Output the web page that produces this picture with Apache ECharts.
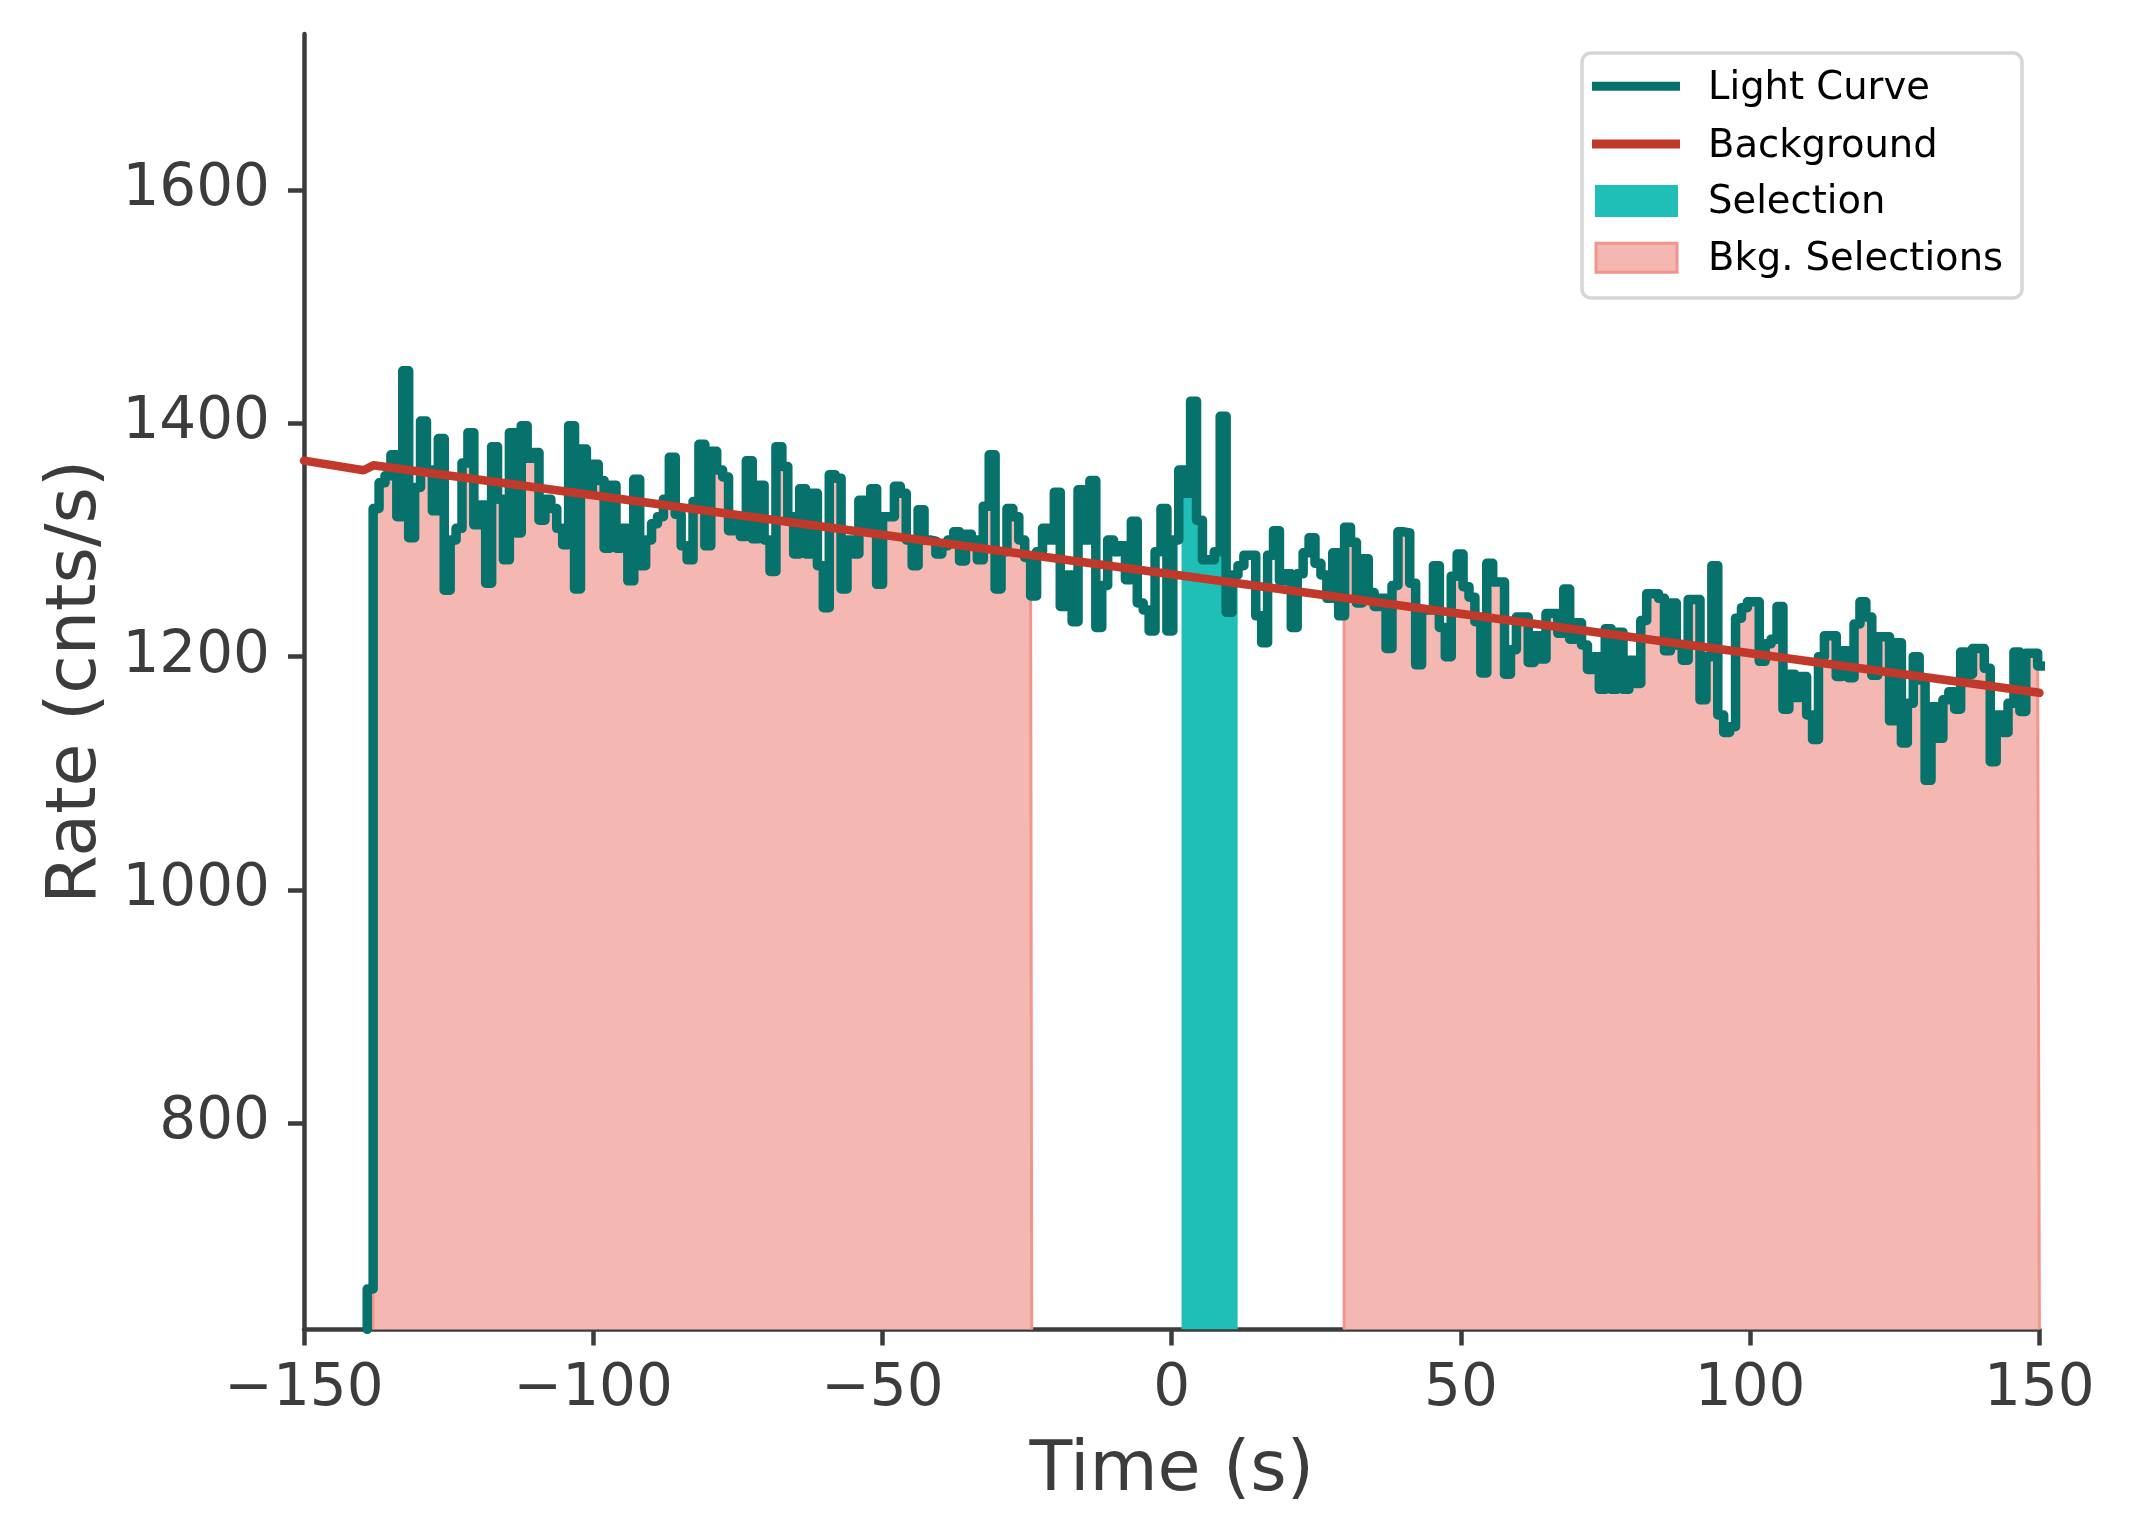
<!DOCTYPE html>
<html><head><meta charset="utf-8">
<script src="https://cdn.jsdelivr.net/npm/echarts@6/dist/echarts.min.js"></script>
<style>html,body{margin:0;padding:0;background:#fff}#c{width:2129px;height:1540px}</style>
</head><body><div id="c"></div>
<script>
// ---- data ----
const binEdgeStart = -139.07;   // left edge of first light-curve bin (s)
const binWidth = 1.024;         // bin width (s)
const lcRates = [
 658, 1327,
 1349,1355,1373,1320,1445,1302,1345,1402,1360,1325,1387,1257,1300,1310,1366,1392,1313,1330,1263,1380,1335,1283,1392,1306,1398,1370,1375,1317,1335,1327,1310,1296,1398,
 1258,1378,1340,1365,1351,1293,1347,1293,1310,1265,1352,1278,1300,1314,1320,1335,1371,1322,1295,1283,1333,1382,1295,1376,1360,1354,1308,1320,1303,1368,1301,1347,1300,1273,1380,
 1363,1320,1288,1344,1288,1340,1278,1242,1356,1353,1258,1300,1288,1334,1310,1344,1262,1320,1320,1346,1340,1300,1278,1326,1300,1299,1288,1295,1300,1307,1282,1305,1300,1283,1329,
 1373,1258,1290,1327,1320,1300,1285,1252,1290,1310,1300,1341,1243,1270,1230,1343,1300,1351,1225,1261,1300,1290,1295,1266,1316,1246,1240,1222,1290,1327,1222,1300,1360,1340,1419,
 1317,1283,1283,1290,1406,1238,1270,1278,1287,1287,1235,1212,1287,1308,1265,1271,1225,1271,1289,1302,1280,1270,1250,1289,1235,1311,1298,1246,1284,1255,1243,1250,1207,1261,1307,
 1306,1263,1193,1240,1240,1278,1225,1200,1269,1288,1260,1251,1230,1186,1280,1264,1264,1185,1206,1234,1234,1195,1218,1198,1237,1237,1220,1258,1215,1229,1210,1189,1200,1172,1224,1172,
 1221,1172,1197,1177,1231,1254,1254,1250,1205,1246,1210,1197,1249,1249,1163,1200,1278,1150,1135,1140,1233,1242,1247,1247,1196,1211,1215,1243,1155,1185,1165,1183,1150,1129,1200,1218,
 1218,1183,1205,1182,1228,1247,1234,1184,1217,1217,1145,1212,1126,1160,1200,1180,1094,1157,1130,1163,1170,1155,1204,1185,1207,1207,1190,1110,1150,1135,1160,1204,1153,1203,1203,1192
];
const bkgTimes = [-150, -139.7, -138.0, 150];
const bkgRates = [1368, 1359.8, 1364, 1169];
const selectionRange = [1.7, 11.4];
const bkgRanges = [[-138.1, -24.2], [29.8, 150]];
const xTicks = [-150, -100, -50, 0, 50, 100, 150];
const yTicks = [800, 1000, 1200, 1400, 1600];
const xLimits = [-150, 150];
const yLimits = [623.3, 1733.7];
const legendLabels = ['Light Curve', 'Background', 'Selection', 'Bkg. Selections'];

// ---- styles ----
const C_LC = '#07726b', C_BKG = '#c0392b', C_SEL = '#1fbfb8', C_BSEL = '#f5b7b1', C_BSEL_EDGE = '#f0968d';
const TXT = '#3c3c3c', FONT = 'DejaVu Sans';

// ---- derived series ----
const edges = lcRates.map((v, j) => binEdgeStart + j * binWidth);
const lcPoints = [[edges[0], yLimits[0]]];
lcRates.forEach((v, j) => lcPoints.push([edges[j], v]));
lcPoints.push([edges[edges.length - 1] + binWidth, lcRates[lcRates.length - 1]]);

function rangePoints(a, b) {
  const pts = [[a, yLimits[0]]];
  let last = null;
  lcRates.forEach((v, j) => {
    const lo = edges[j], hi = lo + binWidth;
    if (hi <= a || lo >= b) return;
    pts.push([Math.max(lo, a), v]);
    last = v;
  });
  pts.push([b, last]);
  pts.push([b, yLimits[0]]);
  return pts;
}
const bkgLine = bkgTimes.map((t, i) => [t, bkgRates[i]]);

const series = [];
bkgRanges.forEach((r, i) => series.push({
  name: legendLabels[3], type: 'line', step: 'end', data: rangePoints(r[0], r[1]),
  symbol: 'none', z: 1, silent: true,
  lineStyle: { color: C_BSEL_EDGE, width: 3 },
  areaStyle: { color: C_BSEL, opacity: 1, origin: 'start' }
}));
series.push({
  name: legendLabels[2], type: 'line', step: 'end', data: rangePoints(selectionRange[0], selectionRange[1]),
  symbol: 'none', z: 1, silent: true,
  lineStyle: { width: 0, color: C_SEL },
  areaStyle: { color: C_SEL, opacity: 1, origin: 'start' }
});
series.push({
  name: legendLabels[0], type: 'line', step: 'end', data: lcPoints, symbol: 'none', z: 3,
  lineStyle: { color: C_LC, width: 9.5, cap: 'round', join: 'round' }
});
series.push({
  name: legendLabels[1], type: 'line', data: bkgLine, symbol: 'none', z: 4,
  lineStyle: { color: C_BKG, width: 8.5, cap: 'round', join: 'round' }
});

// legend drawn with graphic elements
const LX = 1582, LY = 53;
const rowY = [86.3, 144.1, 200.9, 257.7];
const legendGraphic = [
  { type: 'rect', shape: { x: LX, y: LY, width: 440, height: 245, r: 9 },
    style: { fill: 'rgba(255,255,255,0.85)', stroke: '#d6d6d6', lineWidth: 3.5 }, z: 100 },
  { type: 'line', shape: { x1: 1592, y1: rowY[0], x2: 1680, y2: rowY[0] }, style: { stroke: C_LC, lineWidth: 9 }, z: 101 },
  { type: 'line', shape: { x1: 1592, y1: rowY[1], x2: 1680, y2: rowY[1] }, style: { stroke: C_BKG, lineWidth: 9 }, z: 101 },
  { type: 'rect', shape: { x: 1595, y: rowY[2] - 16, width: 83, height: 32 }, style: { fill: C_SEL }, z: 101 },
  { type: 'rect', shape: { x: 1596, y: rowY[3] - 14.5, width: 81, height: 29 }, style: { fill: C_BSEL, stroke: C_BSEL_EDGE, lineWidth: 3 }, z: 101 }
];
legendLabels.forEach((t, i) => legendGraphic.push({
  type: 'text', x: 1708, y: rowY[i] + 2.5, z: 101,
  style: { text: t, font: '38.5px "DejaVu Sans"', fill: '#000', verticalAlign: 'middle', align: 'left' }
}));

const minus = v => (v < 0 ? '\u2212' + Math.abs(v) : String(v));
const chart = echarts.init(document.getElementById('c'), null, { renderer: 'canvas' });
chart.setOption({
  animation: false,
  backgroundColor: '#fff',
  grid: { left: 304, right: 89.6, top: 34, bottom: 210.5, containLabel: false, outerBoundsMode: 'none' },
  xAxis: {
    type: 'value', min: xLimits[0], max: xLimits[1], interval: 50,
    name: 'Time (s)', nameLocation: 'middle', nameGap: 107,
    nameTextStyle: { fontFamily: FONT, fontSize: 70, color: TXT },
    axisLine: { show: true, onZero: false, lineStyle: { color: TXT, width: 4.5 } },
    axisTick: { show: true, inside: false, length: 16, lineStyle: { color: TXT, width: 4.5 } },
    axisLabel: { show: true, margin: 31, fontFamily: FONT, fontSize: 58, color: TXT, formatter: minus,
                 customValues: xTicks, showMinLabel: true, showMaxLabel: true },
    splitLine: { show: false }
  },
  yAxis: {
    type: 'value', min: yLimits[0], max: yLimits[1],
    name: 'Rate (cnts/s)', nameLocation: 'middle', nameGap: 189,
    nameTextStyle: { fontFamily: FONT, fontSize: 70, color: TXT },
    axisLine: { show: true, onZero: false, lineStyle: { color: TXT, width: 4.5 } },
    axisTick: { show: true, inside: false, length: 16, customValues: yTicks, lineStyle: { color: TXT, width: 4.5 } },
    axisLabel: { show: true, margin: 34, fontFamily: FONT, fontSize: 58, color: TXT, customValues: yTicks,
                 formatter: v => String(v) },
    splitLine: { show: false }
  },
  graphic: legendGraphic,
  series: series
});
</script></body></html>
